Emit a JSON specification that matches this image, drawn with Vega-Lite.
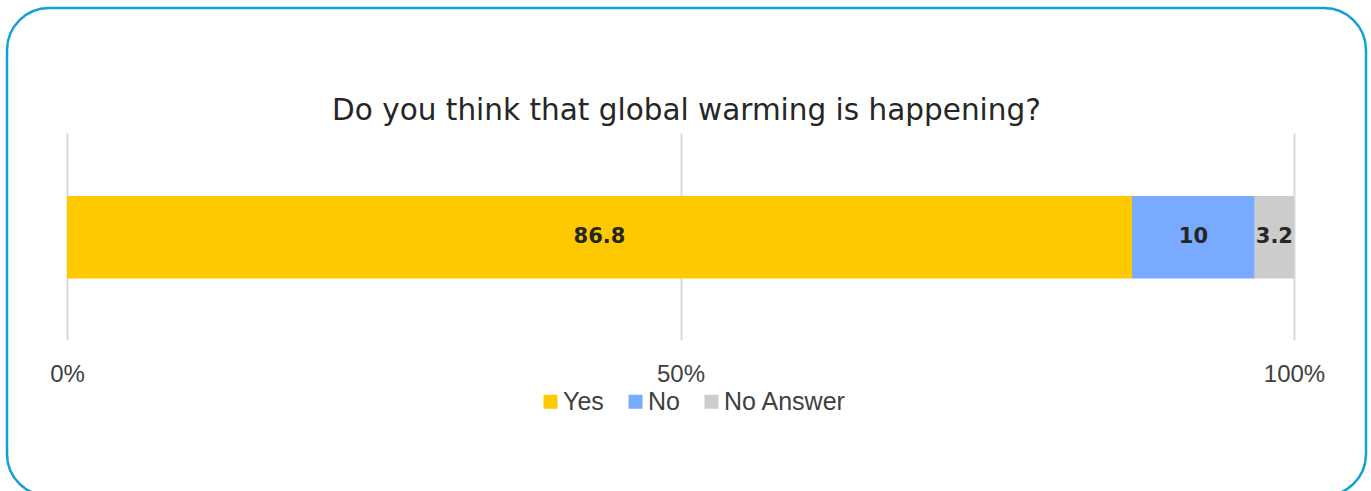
{
  "$schema": "https://vega.github.io/schema/vega-lite/v6.json",
  "width": 1359,
  "height": 488,
  "autosize": {"type": "none"},
  "padding": {"left": 7, "top": 8, "right": 5, "bottom": 0},
  "background": "white",
  "config": {
    "view": {"stroke": "#13a0d2", "strokeWidth": 2.5, "cornerRadius": 42},
    "font": "Liberation Sans"
  },
  "title": {
    "text": "Do you think that global warming is happening?",
    "font": "DejaVu Sans",
    "fontSize": 29.5,
    "fontWeight": "normal",
    "color": "#262626",
    "anchor": "middle",
    "offset": -118
  },
  "data": {
    "values": [
      {"question": "Q", "answer": "Yes", "value": 86.8, "rank": 1},
      {"question": "Q", "answer": "No", "value": 10, "rank": 2},
      {"question": "Q", "answer": "No Answer", "value": 3.2, "rank": 3}
    ]
  },
  "encoding": {
    "y": {
      "field": "question",
      "type": "nominal",
      "axis": null,
      "scale": {"range": [156, 363], "padding": 0.43, "align": 0.257}
    }
  },
  "layer": [
    {
      "mark": {"type": "bar"},
      "encoding": {
        "x": {
          "field": "value",
          "type": "quantitative",
          "stack": "zero",
          "scale": {"domain": [0, 100], "range": [60, 1287], "nice": false},
          "axis": {
            "values": [0, 50, 100],
            "labelExpr": "datum.value + '%'",
            "orient": "bottom",
            "offset": -122,
            "domain": false,
            "ticks": false,
            "tickSize": 0,
            "labelPadding": 0,
            "labelBaseline": "middle",
            "labelFlush": false,
            "labelFontSize": 24,
            "labelColor": "#404040",
            "labelFont": "Liberation Sans",
            "grid": true,
            "gridColor": "#d9d9d9",
            "gridWidth": 2,
            "title": null
          }
        },
        "color": {
          "field": "answer",
          "type": "nominal",
          "scale": {"domain": ["Yes", "No", "No Answer"], "range": ["#FFC900", "#78AAFF", "#CCCCCC"]},
          "legend": {
            "orient": "none",
            "legendX": 531,
            "legendY": 381,
            "direction": "horizontal",
            "title": null,
            "symbolType": "square",
            "symbolSize": 196,
            "symbolStrokeWidth": 0,
            "labelFontSize": 25,
            "labelFont": "Liberation Sans",
            "labelColor": "#404040",
            "labelOffset": 0,
            "columnPadding": 19
          }
        },
        "order": {"field": "rank", "type": "quantitative"}
      }
    },
    {
      "mark": {"type": "text", "font": "DejaVu Sans", "fontWeight": "bold", "fontSize": 21, "color": "#262626"},
      "encoding": {
        "x": {"field": "value", "type": "quantitative", "stack": "zero", "bandPosition": 0.5},
        "text": {"field": "value", "type": "quantitative"},
        "detail": {"field": "answer", "type": "nominal"},
        "order": {"field": "rank", "type": "quantitative"}
      }
    }
  ]
}
